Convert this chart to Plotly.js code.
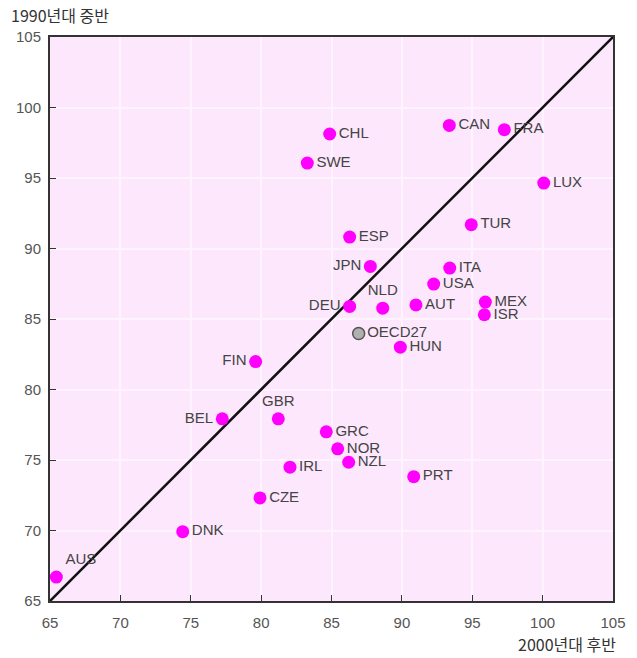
<!DOCTYPE html>
<html>
<head>
<meta charset="utf-8">
<script src="https://cdn.plot.ly/plotly-3.0.1.min.js"></script>
<style>html,body{margin:0;padding:0;background:#fff;}</style>
</head>
<body>
<div id="chart" style="width:637px;height:658px;"></div>
<script>
// Data
var countries = ["AUS","DNK","CZE","IRL","BEL","GBR","FIN","HUN","GRC","NOR","NZL","PRT",
                 "CHL","SWE","CAN","FRA","LUX","TUR","ESP","JPN","ITA","USA","MEX","ISR",
                 "DEU","NLD","AUT"];
var late2000s = [65.45,74.43,79.92,82.05,77.24,81.22,79.61,89.89,84.63,85.44,86.22,90.84,
                 84.87,83.28,93.37,97.28,100.08,94.93,86.29,87.76,93.40,92.26,95.93,95.86,
                 86.29,88.64,91.0];
var mid1990s = [66.70,69.92,72.31,74.49,77.92,77.92,81.98,83.0,77.0,75.79,74.84,73.82,
                98.12,96.06,98.73,98.43,94.64,91.69,90.81,88.73,88.61,87.48,86.2,85.30,
                85.89,85.77,86.0];
var oecdName = ["OECD27"];
var oecdX = [86.93];
var oecdY = [83.97];
var axisTicks = [65,70,75,80,85,90,95,100,105];

// label placement (style only)
var leftLabels = {"JPN":1,"DEU":1,"FIN":1,"BEL":1};
var topLabels = {"NLD":1,"GBR":1,"AUS":1};
var textPos = countries.map(function(c){
  if (leftLabels[c]) return "middle left";
  if (topLabels[c]) return c === "AUS" ? "top right" : "top center";
  return "middle right";
});

var labelFont = {family:"Liberation Sans, Arial, sans-serif", size:15, color:"#444"};
var diagX = [axisTicks[0], axisTicks[axisTicks.length-1]];

var traces = [
  {
    type:"scatter", mode:"lines", x: diagX, y: diagX,
    line:{color:"#111", width:2.5}, hoverinfo:"skip"
  },
  {
    type:"scatter", mode:"markers+text",
    x: late2000s, y: mid1990s, text: countries, textposition: textPos,
    textfont: labelFont,
    marker:{color:"#ff00ff", size:13, line:{width:0}},
    hoverinfo:"text", cliponaxis:false
  },
  {
    type:"scatter", mode:"markers+text",
    x: oecdX, y: oecdY, text: oecdName, textposition:"middle right",
    textfont: labelFont,
    marker:{color:"#b0b0b0", size:12, line:{width:1.5, color:"#555"}},
    cliponaxis:false
  }
];

var axisCommon = {
  range:[65,105], tickvals: axisTicks, ticktext: axisTicks.map(String),
  showgrid:true, gridcolor:"#fff3ff", gridwidth:2,
  zeroline:false, showline:true, linecolor:"#333", linewidth:2, mirror:true,
  ticks:"inside", ticklen:6, tickcolor:"#333", tickwidth:1,
  tickfont:{family:"Liberation Sans, Arial, sans-serif", size:15, color:"#555"},
  fixedrange:true
};

var layout = {
  width:637, height:658,
  margin:{l:50, r:24, t:37, b:57, pad:0},
  paper_bgcolor:"#ffffff", plot_bgcolor:"#fde7fd",
  showlegend:false,
  xaxis: Object.assign({}, axisCommon, {ticklabelstandoff:7}),
  yaxis: Object.assign({}, axisCommon, {ticklabelstandoff:4}),
  annotations:[
    {xref:"paper", yref:"paper", x:-0.072, y:1.039, xanchor:"left", yanchor:"middle",
     text:"1990년대 중반", showarrow:false,
     font:{family:"Noto Sans CJK KR, sans-serif", size:16, color:"#333"}},
    {xref:"paper", yref:"paper", x:1.008, y:-0.077, xanchor:"right", yanchor:"middle",
     text:"2000년대 후반", showarrow:false,
     font:{family:"Noto Sans CJK KR, sans-serif", size:16, color:"#333"}}
  ]
};

Plotly.newPlot("chart", traces, layout, {displayModeBar:false, staticPlot:true});
</script>
</body>
</html>
